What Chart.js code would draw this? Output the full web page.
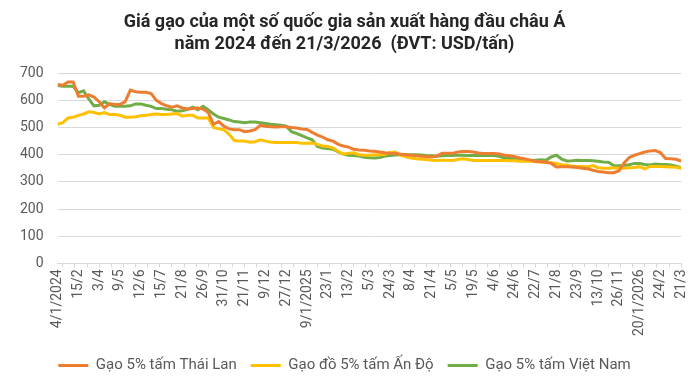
<!DOCTYPE html>
<html>
<head>
<meta charset="utf-8">
<script src="https://cdn.jsdelivr.net/npm/chart.js@4"></script>
<style>
  html, body { margin: 0; padding: 0; background: #fff; }
  #wrap { width: 700px; height: 388px; }
</style>
</head>
<body>
<div id="wrap"><canvas id="chartRice"></canvas></div>
<script>
// ---------------------------------------------------------------------------
// Data (USD/tấn), one point every ~3 axis units
// ---------------------------------------------------------------------------
const tickLabels = [
  "4/1/2024", "15/2", "3/4", "9/5", "12/6", "15/7", "21/8", "26/9", "31/10", "21/11",
  "9/12", "27/12", "9/1/2025", "23/1", "13/2", "5/3", "24/3", "8/4", "21/4", "5/5",
  "19/5", "4/6", "24/6", "22/7", "21/8", "23/9", "13/10", "26/11", "20/1/2026", "24/2", "21/3",
];

const seriesNames = ["Gạo 5% tấm Thái Lan", "Gạo đồ 5% tấm Ấn Độ", "Gạo 5% tấm Việt Nam"];

const thai = [
  658, 656, 668, 668, 615, 615, 620, 612, 595, 572,
  588, 585, 585, 595, 638, 632, 630, 630, 625, 600,
  588, 580, 575, 580, 572, 568, 570, 572, 568, 555,
  512, 522, 505, 495, 492, 492, 485, 487, 492, 508,
  505, 503, 502, 503, 503, 500, 498, 495, 493, 482,
  472, 465, 455, 450, 438, 432, 428, 420, 417, 416,
  414, 413, 410, 407, 405, 404, 402, 400, 398, 396,
  394, 393, 392, 395, 405, 405, 405, 410, 412, 412,
  410, 406, 404, 404, 404, 403, 398, 396, 393, 388,
  384, 380, 376, 374, 372, 368, 355, 356, 356, 355,
  353, 350, 348, 343, 338, 336, 334, 334, 340, 370,
  390, 398, 404, 410, 414, 415, 408, 386, 385, 383,
  377,
];

const india = [
  512, 518, 535, 538, 545, 550, 558, 555, 550, 555,
  548, 548, 545, 538, 538, 540, 543, 545, 548, 550,
  548, 548, 550, 552, 542, 545, 545, 535, 535, 535,
  500, 495, 492, 475, 452, 450, 450, 446, 448, 455,
  450, 447, 445, 445, 445, 445, 445, 442, 442, 443,
  438, 432, 430, 425, 412, 402, 405, 407, 400, 398,
  398, 400, 400, 402, 408, 410, 398, 392, 388, 385,
  383, 382, 380, 379, 380, 380, 379, 382, 385, 382,
  379, 379, 379, 379, 379, 379, 379, 378, 378, 376,
  376, 376, 374, 373, 372, 370, 368, 363, 362, 358,
  357, 357, 355, 360, 352, 350, 350, 352, 350, 350,
  352, 353, 356, 348, 357, 357, 357, 356, 355, 354,
  350,
];

const vietnam = [
  655, 652, 652, 652, 628, 635, 605, 580, 582, 595,
  585, 578, 578, 578, 580, 587, 587, 582, 578, 570,
  570, 567, 565, 560, 562, 567, 575, 565, 578, 565,
  550, 538, 533, 528, 522, 520, 518, 520, 520, 518,
  515, 512, 510, 508, 505, 485, 478, 470, 462, 455,
  430, 425, 423, 420, 410, 402, 398, 397, 395, 391,
  389, 388, 390, 395, 397, 399, 400, 400, 400, 400,
  399, 397, 396, 394, 396, 397, 397, 398, 398, 397,
  397, 397, 397, 397, 397, 394, 388, 386, 387, 384,
  382, 379, 380, 381, 380, 392, 398, 384, 377, 378,
  380, 379, 379, 378, 376, 373, 372, 360, 359, 360,
  363, 368, 368, 364, 362, 366, 364, 364, 362, 358,
  352,
];

const colors = ["#ED7D31", "#FFC000", "#70AD47"];
const STEP = 3;          // axis units between two data points
const LABEL_EVERY = 12;  // axis units between two date labels
const TICK_EVERY = 7;    // axis units between two tick marks

Chart.defaults.font.family = "Roboto, 'Noto Sans', sans-serif";
Chart.defaults.color = "#595959";

// ---------------------------------------------------------------------------
// Chart
// ---------------------------------------------------------------------------
const toPoints = (arr) => arr.map((v, i) => ({ x: i * STEP, y: v }));
const maxX = (thai.length - 1) * STEP;

new Chart(document.getElementById("chartRice"), {
  type: "line",
  data: {
    datasets: [thai, india, vietnam].map((arr, k) => ({
      label: seriesNames[k],
      data: toPoints(arr),
      borderColor: colors[k],
      backgroundColor: colors[k],
      borderWidth: 3,
      pointRadius: 0,
      tension: 0,
    })),
  },
  options: {
    responsive: true,
    maintainAspectRatio: false,
    animation: false,
    layout: { padding: { left: 6, right: 17, top: 0, bottom: 5 } },
    plugins: {
      title: {
        display: true,
        text: [
          "Giá gạo của một số quốc gia sản xuất hàng đầu châu Á",
          "năm 2024 đến 21/3/2026  (ĐVT: USD/tấn)",
        ],
        color: "#262626",
        font: { size: 18, weight: "bold" },
        padding: { top: 12, bottom: 18 },
        lineHeight: 1.28,
      },
      legend: {
        position: "bottom",
        labels: {
          boxWidth: 30,
          boxHeight: 3,
          padding: 14,
          color: "#595959",
          font: { size: 15 },
          generateLabels: (chart) =>
            Chart.defaults.plugins.legend.labels.generateLabels(chart).map((l) => ({ ...l, lineWidth: 0 })),
        },
      },
      tooltip: { enabled: false },
    },
    scales: {
      x: {
        type: "linear",
        min: 0,
        max: maxX,
        afterBuildTicks: (scale) => {
          const ticks = [];
          for (let v = 0; v <= maxX; v++) {
            if (v % LABEL_EVERY === 0 || (v - 3) % TICK_EVERY === 0) ticks.push({ value: v });
          }
          scale.ticks = ticks;
        },
        afterFit: (scale) => {
          scale.height += 6; // room between the date labels and the legend
        },
        ticks: {
          autoSkip: false,
          minRotation: 90,
          maxRotation: 90,
          padding: 2,
          font: { size: 14 },
          callback: (v) => (v % LABEL_EVERY === 0 ? tickLabels[v / LABEL_EVERY] : ""),
        },
        grid: {
          drawOnChartArea: false,
          tickLength: 4,
          tickColor: (ctx) => (ctx.tick && (ctx.tick.value - 3) % TICK_EVERY === 0 ? "#d9d9d9" : "rgba(0,0,0,0)"),
        },
        border: { color: "#d9d9d9" },
      },
      y: {
        min: 0,
        max: 700,
        ticks: { stepSize: 100, padding: 14, font: { size: 14 } },
        grid: { color: "#d9d9d9", drawTicks: false },
        border: { display: false },
      },
    },
  },
});
</script>
</body>
</html>
